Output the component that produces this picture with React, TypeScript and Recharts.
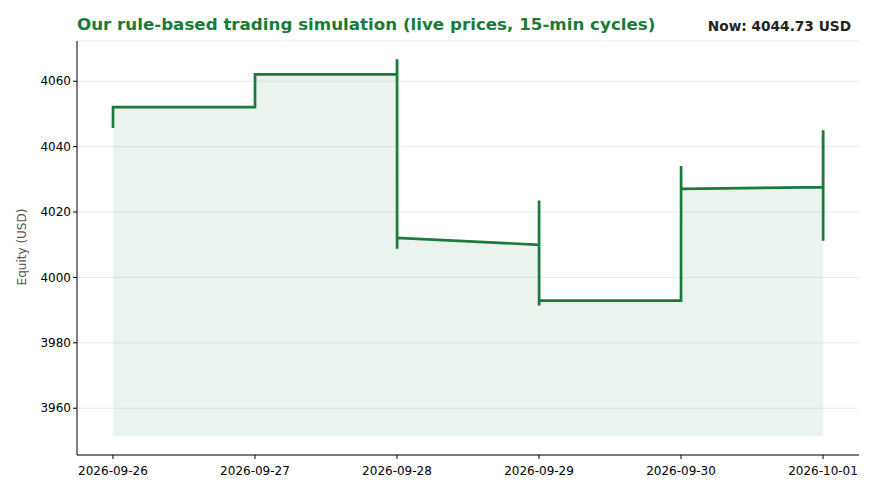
import React from "react";
import { ComposedChart, Area, XAxis, YAxis, CartesianGrid } from "recharts";

// hours since 2026-09-26 00:00, one tight cluster of 15-min cycles per day
const hours = [0, 0.01, 24, 24.01, 48, 48.01, 48.02, 48.03, 72, 72.01, 72.02, 72.03, 96, 96.01, 96.02, 120, 120.01, 120.02, 120.03];
const equity = [4045.7, 4052.1, 4052.1, 4062.1, 4062.1, 4066.7, 4008.8, 4012.1, 4010.0, 4023.5, 3991.4, 3992.9, 3992.9, 4034.1, 4027.1, 4027.6, 4045.0, 4011.2, 4044.73];
const dayTicks = [0, 24, 48, 72, 96, 120];
const dayLabels = ["2026-09-26", "2026-09-27", "2026-09-28", "2026-09-29", "2026-09-30", "2026-10-01"];
const yTicks = [3960, 3980, 4000, 4020, 4040, 4060];
const latest = 4044.73;

const data = hours.map((h, i) => ({ h, v: equity[i] }));

const green = "#1a7a38";
const font = "'DejaVu Sans', sans-serif";

export default function App() {
  return (
    <div style={{ position: "absolute", left: 0, top: 0, width: 880, height: 495, background: "#fff", fontFamily: font }}>
      <div style={{ position: "absolute", left: 77, top: 14, fontSize: 16.7, fontWeight: "bold", color: green, whiteSpace: "nowrap" }}>
        Our rule-based trading simulation (live prices, 15-min cycles)
      </div>
      <div style={{ position: "absolute", right: 29, top: 18, fontSize: 13.7, fontWeight: "bold", color: "#222", whiteSpace: "nowrap" }}>
        Now: {latest.toFixed(2)} USD
      </div>
      <div style={{ position: "absolute", left: 22, top: 247, transform: "translate(-50%,-50%) rotate(-90deg)", fontSize: 12, color: "#555", whiteSpace: "nowrap" }}>
        Equity (USD)
      </div>
      <ComposedChart width={880} height={495} data={data} margin={{ top: 41, right: 21, bottom: 10, left: 0 }}>
        <CartesianGrid horizontal vertical={false} stroke="#ebebeb" />
        <XAxis
          dataKey="h"
          type="number"
          domain={[-6.08, 126.08]}
          ticks={dayTicks}
          tickFormatter={(v: number) => dayLabels[dayTicks.indexOf(v)] ?? ""}
          height={30}
          stroke="#000"
          tickSize={4}
          tickMargin={7}
          tick={{ fill: "#000", fontSize: 12, fontFamily: font }}
          allowDataOverflow
        />
        <YAxis
          type="number"
          domain={[3945.7, 4072.3]}
          ticks={yTicks}
          width={77}
          stroke="#000"
          tickSize={4}
          tick={{ fill: "#000", fontSize: 12, fontFamily: font }}
          allowDataOverflow
        />
        <Area
          dataKey="v"
          type="linear"
          baseValue={3951.5}
          stroke={green}
          strokeWidth={2.7}
          fill={green}
          fillOpacity={0.09}
          dot={false}
          activeDot={false}
          isAnimationActive={false}
        />
      </ComposedChart>
    </div>
  );
}
